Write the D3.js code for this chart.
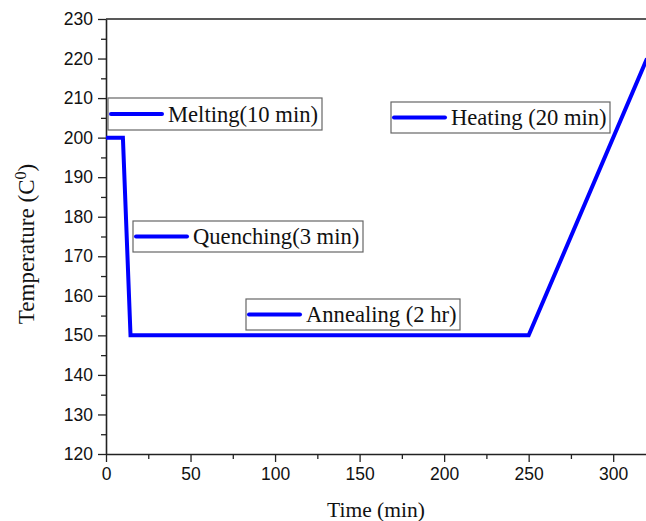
<!DOCTYPE html>
<html>
<head>
<meta charset="utf-8">
<script src="https://cdn.jsdelivr.net/npm/d3@7"></script>
<style>
  body { margin: 0; background: #fff; }
  svg { display: block; }
</style>
</head>
<body>
<script>
// data: time (min) and temperature of the heat treatment profile
var times = [0, 10, 14.5, 250, 320];
var temps = [200, 200, 150, 150, 220];

// legend labels
var stages = ["Melting(10 min)", "Quenching(3 min)", "Annealing (2 hr)", "Heating (20 min)"];

// ticks
var xTicks = [0, 50, 100, 150, 200, 250, 300];
var xMinor = [25, 75, 125, 175, 225, 275];
var yTicks = [120, 130, 140, 150, 160, 170, 180, 190, 200, 210, 220, 230];
var yMinor = [125, 135, 145, 155, 165, 175, 185, 195, 205, 215, 225];

var W = 646, H = 521;
var margin = { top: 19, left: 106, bottom: 454 };
var serif = "'Liberation Serif', 'Times New Roman', serif";

var svg = d3.select("body").append("svg")
    .attr("width", W)
    .attr("height", H);

var xScale = d3.scaleLinear().domain([0, 320]).range([margin.left, 647]);
var yScale = d3.scaleLinear().domain([120, 230]).range([margin.bottom, margin.top]);

// minor ticks
svg.append("g")
    .attr("transform", "translate(0," + margin.bottom + ")")
    .call(d3.axisBottom(xScale).tickValues(xMinor).tickSize(5).tickFormat(""))
    .call(function(g){ g.select(".domain").remove(); });
svg.append("g")
    .attr("transform", "translate(" + margin.left + ",0)")
    .call(d3.axisLeft(yScale).tickValues(yMinor).tickSize(5).tickFormat(""))
    .call(function(g){ g.select(".domain").remove(); });

// major axes
svg.append("g")
    .attr("transform", "translate(0," + margin.bottom + ")")
    .call(d3.axisBottom(xScale).tickValues(xTicks).tickSize(8).tickSizeOuter(0).tickPadding(6));
svg.append("g")
    .attr("transform", "translate(" + margin.left + ",0)")
    .call(d3.axisLeft(yScale).tickValues(yTicks).tickSize(8).tickSizeOuter(0).tickPadding(5));

svg.selectAll(".tick line").attr("stroke", "#222").attr("stroke-width", 1.3);
svg.selectAll(".domain").attr("stroke", "#222").attr("stroke-width", 1.6);
svg.selectAll(".tick text")
    .attr("font-family", "'Liberation Sans', Arial, sans-serif")
    .attr("font-size", "17.5px")
    .attr("fill", "#111");

// top frame line
svg.append("line")
    .attr("x1", xScale(0)).attr("x2", W)
    .attr("y1", yScale(230)).attr("y2", yScale(230))
    .attr("stroke", "#222").attr("stroke-width", 1.6);

// profile line
var pts = times.map(function(t, i){ return [t, temps[i]]; });
svg.append("path")
    .datum(pts)
    .attr("fill", "none")
    .attr("stroke", "#0000ff")
    .attr("stroke-width", 4)
    .attr("stroke-linejoin", "miter")
    .attr("d", d3.line()
        .x(function(d){ return xScale(d[0]); })
        .y(function(d){ return yScale(d[1]); }));

// legend boxes (pixel layout)
var boxes = [
  { x: 108, y: 98, w: 214, h: 32 },
  { x: 133, y: 221, w: 230, h: 31 },
  { x: 246, y: 299, w: 214, h: 31 },
  { x: 391, y: 102, w: 219, h: 31 }
];

boxes.forEach(function(b, i){
  var g = svg.append("g").attr("transform", "translate(" + b.x + "," + b.y + ")");
  g.append("rect")
      .attr("width", b.w).attr("height", b.h)
      .attr("fill", "#fff")
      .attr("stroke", "#666").attr("stroke-width", 1.2);
  g.append("line")
      .attr("x1", 3).attr("x2", 54)
      .attr("y1", b.h / 2).attr("y2", b.h / 2)
      .attr("stroke", "#0000ff").attr("stroke-width", 4)
      .attr("stroke-linecap", "round");
  g.append("text")
      .attr("x", 60).attr("y", b.h / 2 + 7.5)
      .attr("font-family", serif)
      .attr("font-size", "22.6px")
      .attr("fill", "#111")
      .text(stages[i]);
});

// axis titles
svg.append("text")
    .attr("x", 376)
    .attr("y", 517)
    .attr("text-anchor", "middle")
    .attr("font-family", serif)
    .attr("font-size", "21.5px")
    .attr("fill", "#111")
    .text("Time (min)");

var yt = svg.append("text")
    .attr("transform", "translate(34,244) rotate(-90)")
    .attr("text-anchor", "middle")
    .attr("font-family", serif)
    .attr("font-size", "23px")
    .attr("fill", "#111");
yt.append("tspan").text("Temperature (C");
yt.append("tspan").attr("dy", -8).attr("font-size", "16px").text("0");
yt.append("tspan").attr("dy", 8).text(")");
</script>
</body>
</html>
